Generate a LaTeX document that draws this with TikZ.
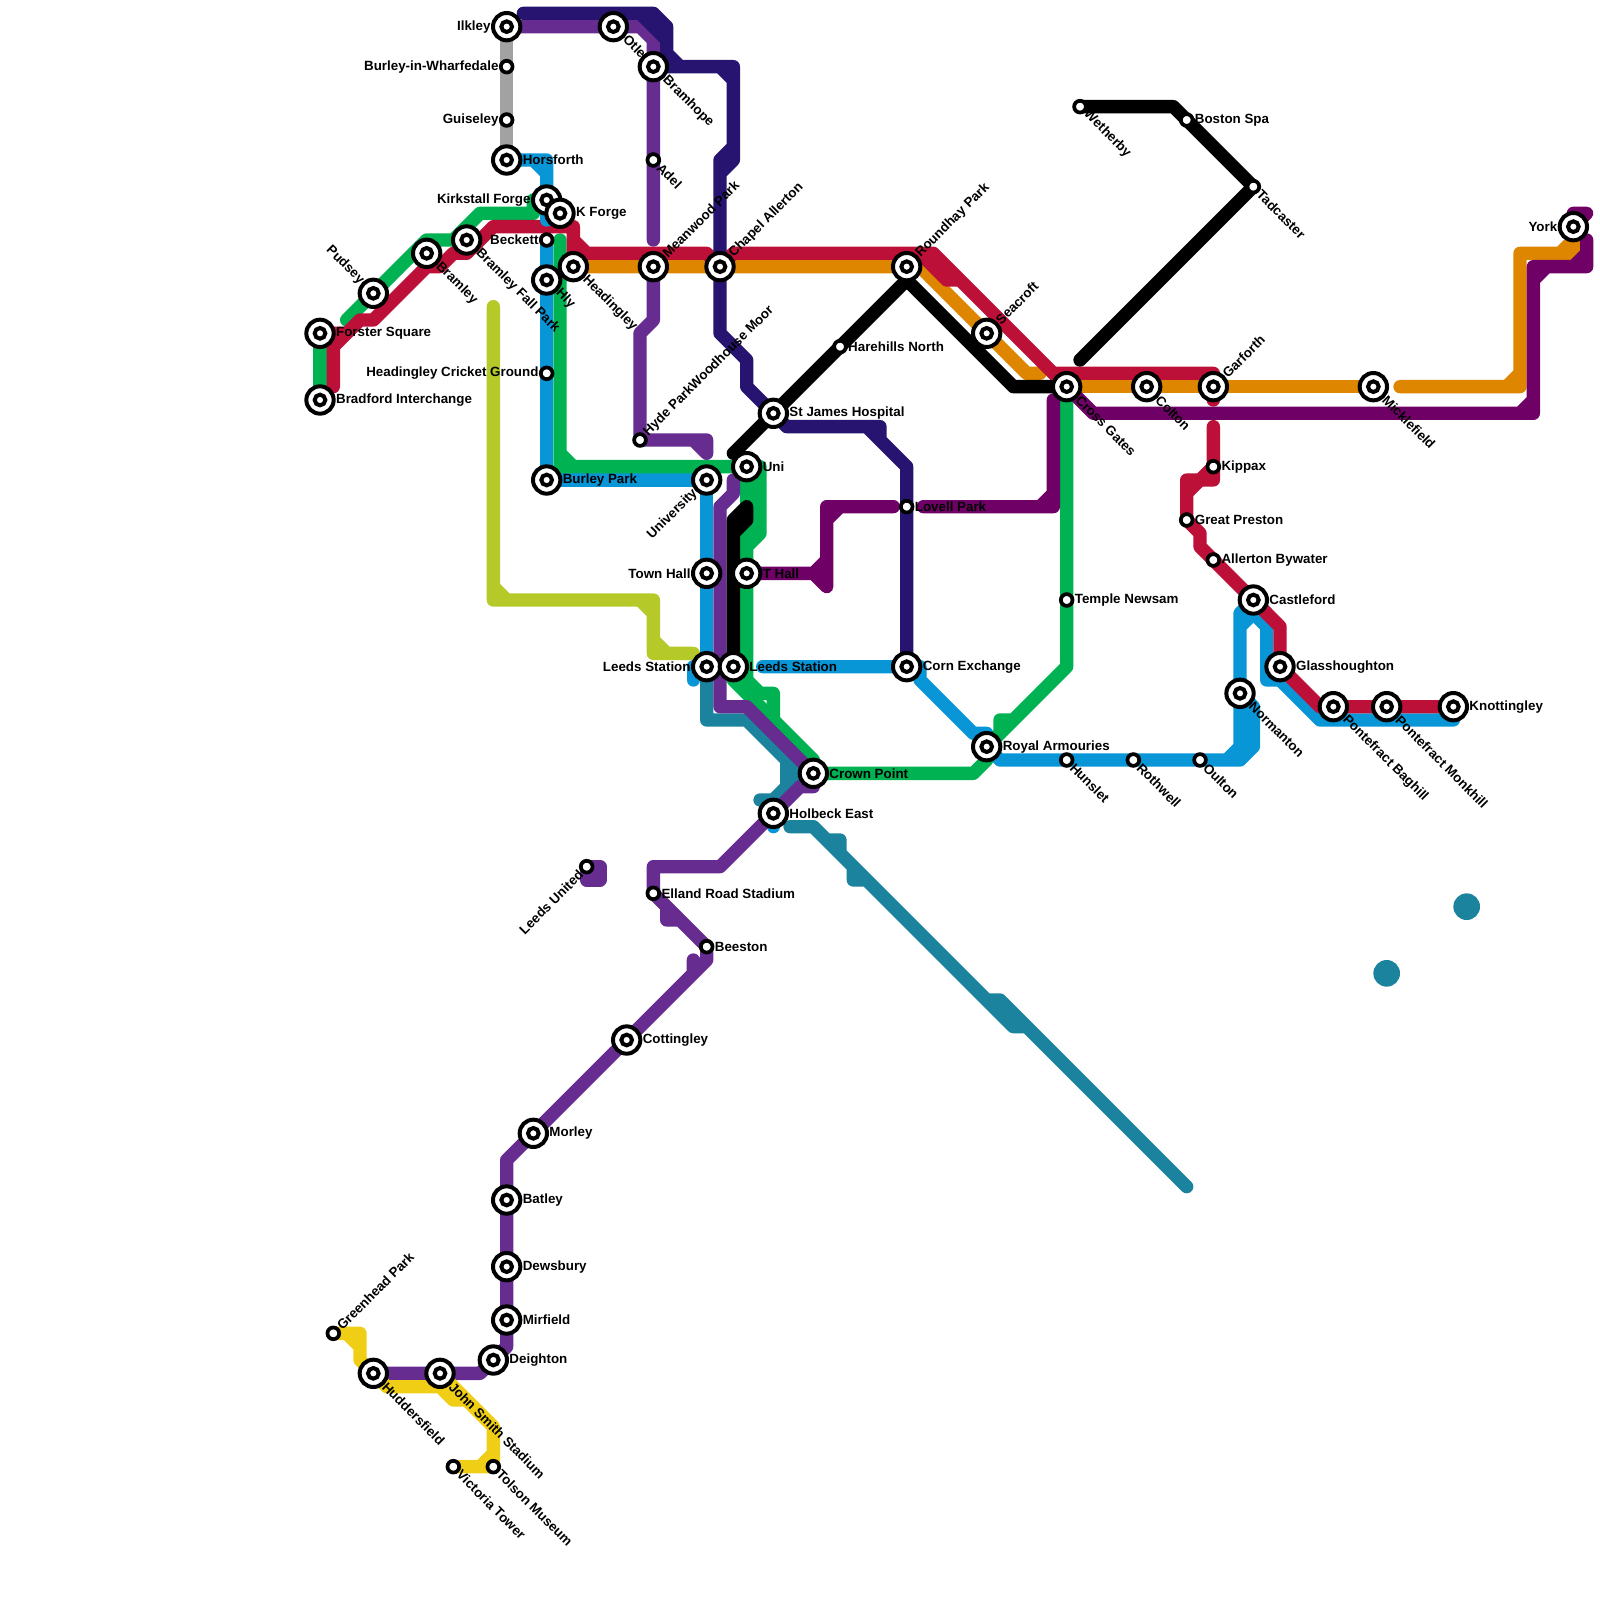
\documentclass[tikz,border=0pt]{standalone}
\usepackage{fontspec}
\setmainfont{Liberation Sans}
\usetikzlibrary{backgrounds}
\definecolor{lgrey}{HTML}{A2A2A2}
\definecolor{lime}{HTML}{B5C929}
\definecolor{teal}{HTML}{1B839E}
\definecolor{amber}{HTML}{DF8600}
\definecolor{lgreen}{HTML}{00B251}
\definecolor{lblue}{HTML}{0996D7}
\definecolor{crimson}{HTML}{BD1038}
\definecolor{violet}{HTML}{662C90}
\definecolor{plum}{HTML}{6E0066}
\definecolor{indigo}{HTML}{261470}
\definecolor{gold}{HTML}{F0CE15}

\begin{document}
\begin{tikzpicture}[
    x=0.2cm, y=-0.2cm,
    every label/.style={font=\bfseries\fontsize{5.7pt}{6pt}\selectfont, inner sep=0pt},
    hub/.style={circle, draw=black, fill=white, line width=0.06cm, minimum size=0.41cm, inner sep=0pt, label distance=0.135cm,
      path picture={\draw[line width=0.06cm] (path picture bounding box.center) circle (0.08cm);}},
    halt/.style={circle, draw=black, fill=white, line width=0.056cm, minimum size=0.176cm, inner sep=0pt, label distance=0.08cm},
    blob/.style={circle, fill=teal, minimum size=0.4cm, inner sep=0pt},
    route/.style={line width=0.2cm, line cap=round, line join=round},
    dr/.style={rotate=-45, anchor=west},
    ur/.style={rotate=45, anchor=west},
    dl/.style={rotate=45, anchor=east},
    ul/.style={rotate=-45, anchor=east}
  ]
    \useasboundingbox (0,0) rectangle (120,120);
    % west side
    \node[hub, label={left:Ilkley}] (ilkley) at (38,2) {};
    \node[hub, label={[dr]-45:Otley}] (otley) at (46,2) {};
    \node[hub, label={[dr]-45:Bramhope}] (bramhope) at (49,5) {};
    \node[halt, label={left:Burley-in-Wharfedale}] (burley) at (38,5) {};
    \node[halt, label={left:Guiseley}] (guiseley) at (38,9) {};
    \node[hub, label={right:Horsforth}] (horsforth) at (38,12) {};
    \node[halt, label={[dr]-45:Adel}] (adel) at (49,12) {};
    \node[hub, label={left:Kirkstall Forge}] (kirkstall) at (41,15) {};
    \node[hub, label={right:K Forge}] (kforge) at (42,16) {};
    \node[hub, label={[dr]-45:Bramley Fall Park}] (fallpark) at (35,18) {};
    \node[halt, label={left:Beckett}] (beckett) at (41,18) {};
    \node[hub, label={[dr]-45:Bramley}] (bramley) at (32,19) {};
    \node[hub, label={[dr]-45:Headingley}] (headingley) at (43,20) {};
    \node[hub, label={[ur]45:Meanwood Park}] (meanwood) at (49,20) {};
    \node[hub, label={[ur]45:Chapel Allerton}] (chapel) at (54,20) {};
    \node[hub, label={[dr]-45:Hly}] (hly) at (41,21) {};
    \node[hub, label={[ul]135:Pudsey}] (pudsey) at (28,22) {};
    \node[hub, label={right:Forster Square}] (forster) at (24,25) {};
    \node[hub, label={right:Bradford Interchange}] (bradford) at (24,30) {};
    \node[halt, label={left:Headingley Cricket Ground}] (cricket) at (41,28) {};
    \node[halt, label={[ur]45:Hyde ParkWoodhouse Moor}] (hydepark) at (48,33) {};
    \node[hub, label={right:Burley Park}] (burleypark) at (41,36) {};
    % centre
    \node[hub, label={right:St James Hospital}] (stjames) at (58,31) {};
    \node[hub, label={[dl]-135:University}] (university) at (53,36) {};
    \node[hub, label={right:Uni}] (uni) at (56,35) {};
    \node[hub, label={left:Town Hall}] (townhall) at (53,43) {};
    \node[hub, label={right:T Hall}] (thall) at (56,43) {};
    \node[hub, label={left:Leeds Station}] (leedsw) at (53,50) {};
    \node[hub, label={right:Leeds Station}] (leedse) at (55,50) {};
    \node[hub, label={right:Corn Exchange}] (corn) at (68,50) {};
    \node[halt, label={right:Lovell Park}] (lovell) at (68,38) {};
    \node[hub, label={right:Royal Armouries}] (royal) at (74,56) {};
    \node[hub, label={right:Crown Point}] (crown) at (61,58) {};
    \node[hub, label={right:Holbeck East}] (holbeck) at (58,61) {};
    \node[halt, label={right:Harehills North}] (harehills) at (63,26) {};
    \node[hub, label={[ur]45:Roundhay Park}] (roundhay) at (68,20) {};
    \node[hub, label={[ur]45:Seacroft}] (seacroft) at (74,25) {};
    % east side
    \node[hub, label={[dr]-45:Cross Gates}] (crossgates) at (80,29) {};
    \node[hub, label={[dr]-45:Colton}] (colton) at (86,29) {};
    \node[hub, label={[ur]45:Garforth}] (garforth) at (91,29) {};
    \node[hub, label={[dr]-45:Micklefield}] (micklefield) at (103,29) {};
    \node[halt, label={[dr]-45:Wetherby}] (wetherby) at (81,8) {};
    \node[halt, label={right:Boston Spa}] (bostonspa) at (89,9) {};
    \node[halt, label={[dr]-45:Tadcaster}] (tadcaster) at (94,14) {};
    \node[hub, label={left:York}] (york) at (118,17) {};
    \node[halt, label={right:Kippax}] (kippax) at (91,35) {};
    \node[halt, label={right:Great Preston}] (preston) at (89,39) {};
    \node[halt, label={right:Allerton Bywater}] (allerton) at (91,42) {};
    \node[hub, label={right:Castleford}] (castleford) at (94,45) {};
    \node[hub, label={right:Glasshoughton}] (glass) at (96,50) {};
    \node[hub, label={[dr]-45:Normanton}] (normanton) at (93,52) {};
    \node[hub, label={[dr]-45:Pontefract Baghill}] (baghill) at (100,53) {};
    \node[hub, label={[dr]-45:Pontefract Monkhill}] (monkhill) at (104,53) {};
    \node[hub, label={right:Knottingley}] (knottingley) at (109,53) {};
    \node[halt, label={right:Temple Newsam}] (newsam) at (80,45) {};
    \node[halt, label={[dr]-45:Hunslet}] (hunslet) at (80,57) {};
    \node[halt, label={[dr]-45:Rothwell}] (rothwell) at (85,57) {};
    \node[halt, label={[dr]-45:Oulton}] (oulton) at (90,57) {};
    % south
    \node[halt, label={[dl]-135:Leeds United}] (leedsutd) at (44,65) {};
    \node[halt, label={right:Elland Road Stadium}] (elland) at (49,67) {};
    \node[halt, label={right:Beeston}] (beeston) at (53,71) {};
    \node[hub, label={right:Cottingley}] (cottingley) at (47,78) {};
    \node[hub, label={right:Morley}] (morley) at (40,85) {};
    \node[hub, label={right:Batley}] (batley) at (38,90) {};
    \node[hub, label={right:Dewsbury}] (dewsbury) at (38,95) {};
    \node[hub, label={right:Mirfield}] (mirfield) at (38,99) {};
    \node[hub, label={right:Deighton}] (deighton) at (37,102) {};
    \node[halt, label={[ur]45:Greenhead Park}] (greenhead) at (25,100) {};
    \node[hub, label={[dr]-45:Huddersfield}] (huddersfield) at (28,103) {};
    \node[hub, label={[dr]-45:John Smith Stadium}] (johnsmith) at (33,103) {};
    \node[halt, label={[dr]-45:Victoria Tower}] (victoria) at (34,110) {};
    \node[halt, label={[dr]-45:Tolson Museum}] (tolson) at (37,110) {};
    \node[blob] (dotnorth) at (110,68) {};
    \node[blob] (dotsouth) at (104,73) {};

    \begin{scope}[on background layer]
      \draw[route, lgrey] (ilkley.center) -- (horsforth.center);
      % lime
      \draw[route, lime] (37,23) -- (37,45) -- (49,45) -- (49,49) -- (52,49)
        (37,44) -- (38,45) (48,45) -- (49,46) (49,48) -- (50,49);
      % amber
      \draw[route, amber] (headingley.center) -- (roundhay.center) -- (69,20) -- (77,28) -- (78,28);
      \draw[route, amber] (crossgates.center) -- (micklefield.center);
      \draw[route, amber] (105,29) -- (114,29) -- (114,19) -- (117,19) -- (118,18) -- (york.center)
        (113,29) -- (114,28) (117,19) -- (118,19) -- (118,18);
      % blue
      \draw[route, lblue] (beckett.center) -- (burleypark.center) -- (university.center) -- (leedsw.center) -- (52,50) -- (52,51);
      \draw[route, lblue] (57.2,50) -- (corn.center) -- (69,50) -- (69,51) -- (73,55) -- (74,55) -- (royal.center) -- (75,57)
        -- (93,57) -- (94,56) -- (94,53) -- (normanton.center) -- (93,46) -- (castleford.center) -- (95,46) -- (95,51) -- (96,51) -- (99,54) -- (109,54)
        (92,57) -- (93,56) -- (93,52) (93,47) -- (94,46) -- (95,47);
      \draw[route, lblue] (holbeck.center) -- (58,62);
      % green
      \draw[route, lgreen] (forster.center) -- (bradford.center);
      \draw[route, lgreen] (26,24) -- (32,18) -- (34,18) -- (36,16) -- (40,16) -- (40,15) -- (kirkstall.center);
      \draw[route, lgreen] (42,18) -- (42,35) -- (uni.center) -- (57,35) -- (57,40) -- (56,41) -- (thall.center) -- (56,51) -- (57,52) -- (58,52) -- (58,54)
        (42,34) -- (43,35) (uni.center) -- (56,41);
      \draw[route, lgreen] (leedse.center) -- (55,51) -- (56,52) -- (61,57) -- (crown.center) -- (73,58) -- (74,57) -- (royal.center) -- (80,50) -- (newsam.center) -- (crossgates.center)
        (75,55) -- (75,54) -- (76,54);
      % teal
      \draw[route, teal] (leedsw.center) -- (53,54) -- (56,54) -- (60,58)
        (59,57) -- (59,59) (57,60) -- (58,60) -- (60,58);
      \draw[route, teal] (59.25,62) -- (61,62) -- (62,63) -- (63,64) -- (76,77) -- (77,77) -- (89,89)
        (62,63) -- (63,63) -- (63,64) (64,65) -- (64,66) -- (65,66) (74,75) -- (75,75) -- (77,77);
      % red
      \draw[route, crimson] (25,29) -- (25,26) -- (27,24) -- (28,24) -- (32,20) -- (33,20) -- (34,19) -- (35,19) -- (37,17) -- (43,17) -- (43,18) -- (44,19) -- (53,19) -- (chapel.center) -- (55,19) -- (70,19) -- (79,28) -- (91,28) -- (91,30)
        (forster.center) -- (26,25) (43,18) -- (headingley.center) (79,28) -- (crossgates.center) (69,19) -- (71,21) -- (72,21);
      \draw[route, crimson] (91,32) -- (kippax.center) -- (91,36) -- (90,36) -- (89,37) -- (preston.center) -- (90,40) -- (90,41) -- (castleford.center) -- (96,47) -- (glass.center) -- (99,53) -- (knottingley.center)
        (kippax.center) -- (90,36) -- (89,36) -- (89,37);
      \draw[route, lblue] (horsforth.center) -- (41,12) -- (41,16.5) (40,12) -- (41,13);
      % violet
      \draw[route, violet] (ilkley.center) -- (otley.center) -- (48,2) -- (49,3) -- (bramhope.center) -- (adel.center) -- (49,18);
      \draw[route, violet] (meanwood.center) -- (49,24) -- (48,25) -- (hydepark.center) -- (53,33) -- (53,34) (52,33) -- (53,34);
      \draw[route, violet] (55,36) -- (55,37) -- (54,38) -- (54,53) -- (56,53) -- (crown.center) -- (61,59) -- (60,59) -- (holbeck.center) -- (54,65) -- (49,65) -- (elland.center) -- (beeston.center) -- (53,72) -- (cottingley.center) -- (morley.center) -- (38,87) -- (batley.center) -- (dewsbury.center) -- (mirfield.center) -- (38,101) -- (deighton.center) -- (36,103) -- (huddersfield.center)
        (50,68) -- (50,69) -- (51,69) (52,72) -- (52,73);
      \draw[route, violet] (leedsutd.center) -- (45,65) -- (45,66) -- (44,66) -- cycle;
      % plum
      \draw[route, plum] (thall.center) -- (61,43) -- (62,42) (61,43) -- (62,44) -- (62,38) -- (67,38) (63,38) -- (62,39);
      \draw[route, plum] (69.25,38) -- (79,38) -- (79,30) (78,38) -- (79,37);
      \draw[route, plum] (crossgates.center) -- (82,31) -- (115,31) -- (115,20) -- (119,20) -- (119,18)
        (114,31) -- (115,30) (115,21) -- (116,20) (118,20) -- (119,19);
      \draw[route, plum] (york.center) -- (118,16) -- (119,16) -- (york.center);
      % indigo
      \draw[route, indigo] (39.25,1) -- (49,1) -- (50,2) -- (50,4) -- (51,5) -- (55,5) -- (55,12) -- (54,13) -- (chapel.center) -- (54,25) -- (56,27) -- (56,29) -- (stjames.center) -- (59,32) -- (66,32) -- (66,33)
        (65,32) -- (68,35) -- (lovell.center) -- (corn.center)
        (48,1) -- (50,3) (bramhope.center) -- (51,5) (54,5) -- (55,6) (55,11) -- (54,12) -- (54,13);
      % black
      \draw[route, black] (wetherby.center) -- (88,8) -- (bostonspa.center) -- (tadcaster.center) -- (81,27);
      \draw[route, black] (55,34) -- (stjames.center) -- (harehills.center) -- (68,21) -- (roundhay.center) (68,21) -- (76,29) -- (crossgates.center);
      \draw[route, black] (leedse.center) -- (55,39) -- (56,38) -- (56,39) -- (55,40);
      % gold
      \draw[route, gold] (greenhead.center) -- (27,100) -- (27,102) -- (huddersfield.center) -- (29,104) -- (33,104) -- (34,105) -- (35,105) -- (37,107) -- (37,110) -- (tolson.center) -- (victoria.center)
        (26,100) -- (27,101) (johnsmith.center) -- (37,107) (37,109) -- (36,110);
    \end{scope}
  \end{tikzpicture}
\end{document}
